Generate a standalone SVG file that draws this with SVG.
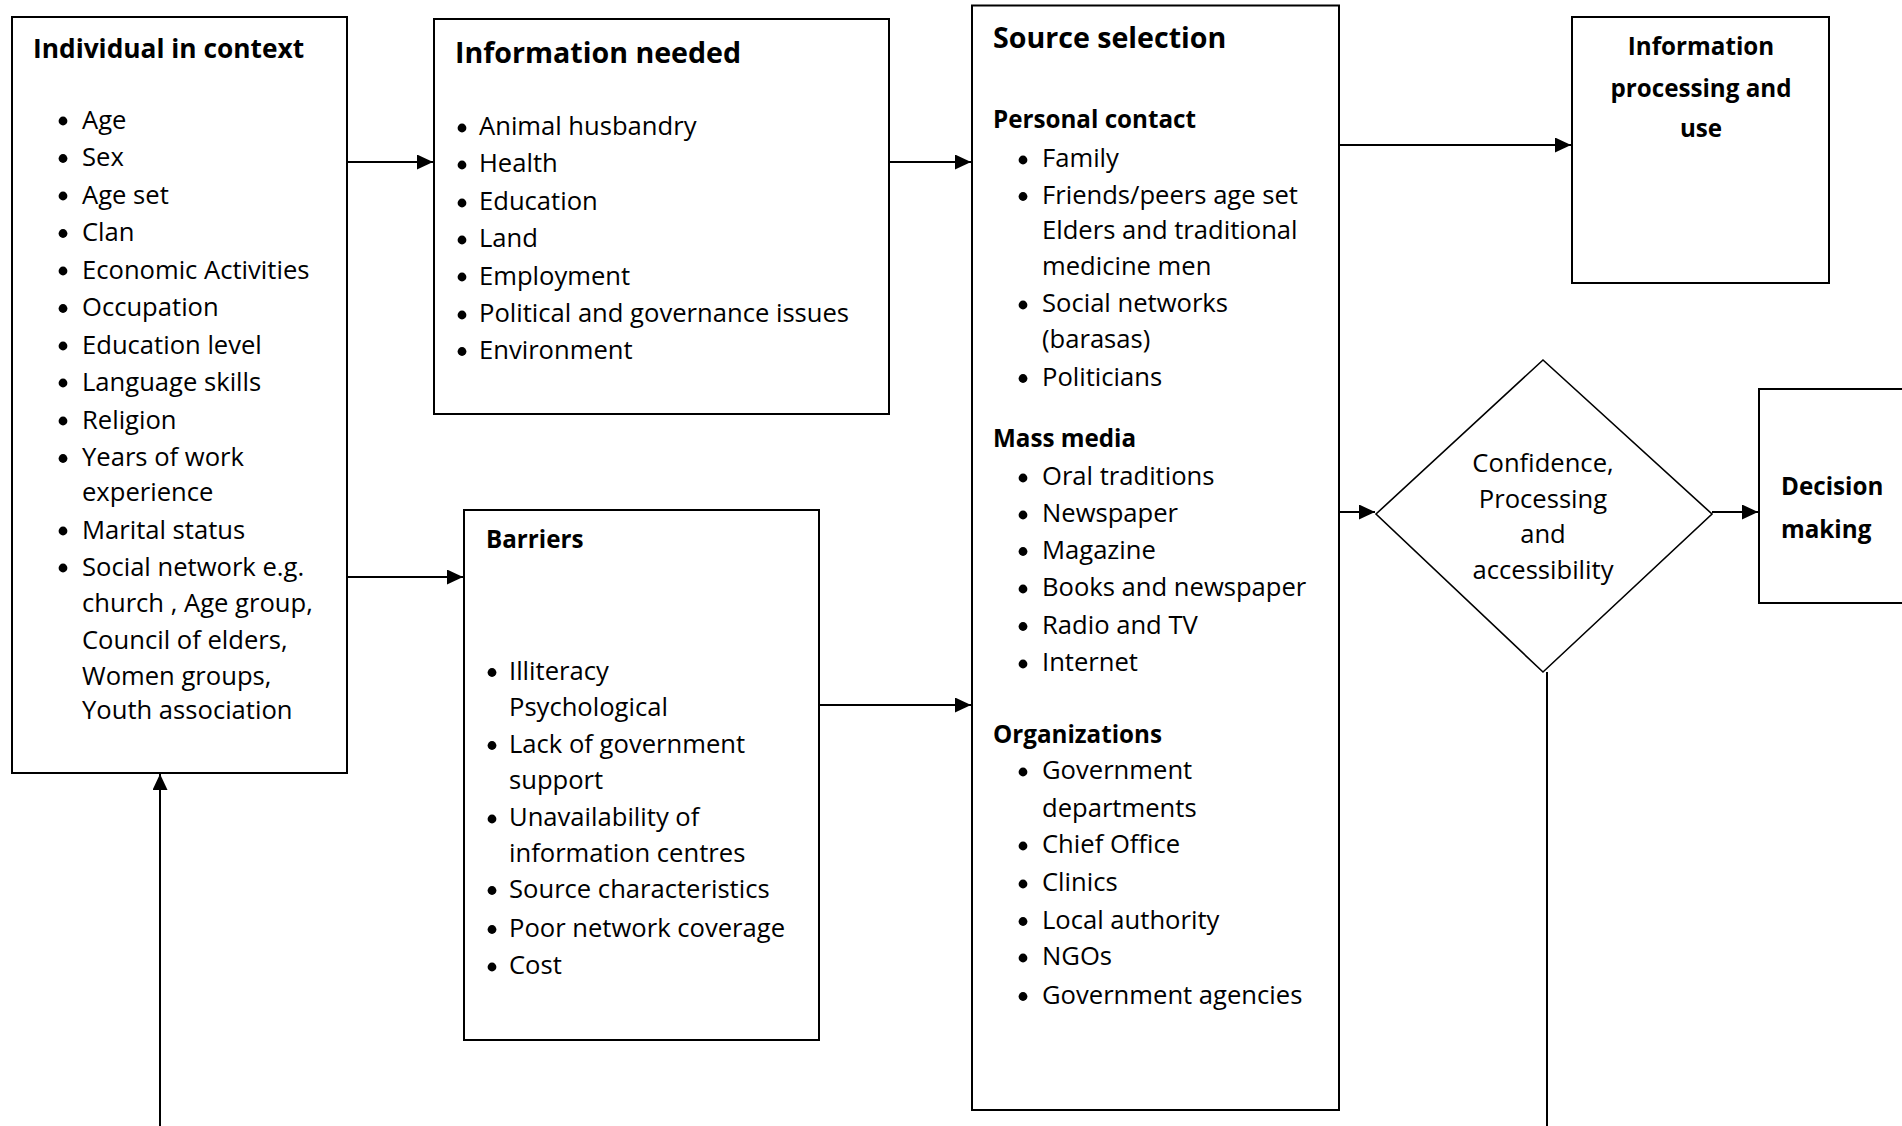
<svg xmlns="http://www.w3.org/2000/svg" width="1902" height="1126" viewBox="0 0 1902 1126">
<style>
text{font-family:"Open Sans","Noto Sans","DejaVu Sans",sans-serif;fill:#000}
.b{font-size:25.6px}
.h{font-size:26.3px;font-weight:bold}
.h2{font-size:28.6px;font-weight:bold}
.s{font-size:24.2px;font-weight:bold}
.box{fill:#fff;stroke:#000;stroke-width:2}
.dia{fill:#fff;stroke:#000;stroke-width:1.6}
.c{fill:none;stroke:#000;stroke-width:2}
.dot{fill:#000}
</style>
<defs>
<marker id="ah" markerUnits="userSpaceOnUse" markerWidth="17" markerHeight="16" refX="16" refY="7.5" orient="auto">
<path d="M0,0 L16,7.5 L0,15 z" fill="#000"/>
</marker>
</defs>
<rect width="1902" height="1126" fill="#fff"/>

<g id="connectors">
<path class="c" d="M347,162 H433" marker-end="url(#ah)"/>
<path class="c" d="M889,162 H971" marker-end="url(#ah)"/>
<path class="c" d="M347,577 H463" marker-end="url(#ah)"/>
<path class="c" d="M819,705 H971" marker-end="url(#ah)"/>
<path class="c" d="M1339,145 H1571" marker-end="url(#ah)"/>
<path class="c" d="M1339,512 H1375" marker-end="url(#ah)"/>
<path class="c" d="M1712,512 H1758" marker-end="url(#ah)"/>
<path class="c" d="M160,1126 V774" marker-end="url(#ah)"/>
<path class="c" d="M1547,672 V1126"/>
</g>

<g id="individual">
<rect class="box" x="12" y="17" width="335" height="756"/>
<text class="h" x="33" y="58">Individual in context</text>
<g class="dot">
<circle cx="63" cy="121" r="4.4"/><circle cx="63" cy="158.5" r="4.4"/><circle cx="63" cy="196" r="4.4"/><circle cx="63" cy="233.5" r="4.4"/><circle cx="63" cy="271" r="4.4"/><circle cx="63" cy="308.5" r="4.4"/><circle cx="63" cy="346" r="4.4"/><circle cx="63" cy="383" r="4.4"/><circle cx="63" cy="421" r="4.4"/><circle cx="63" cy="458.5" r="4.4"/><circle cx="63" cy="531" r="4.4"/><circle cx="63" cy="568" r="4.4"/>
</g>
<text class="b" x="82" y="128.5">Age</text>
<text class="b" x="82" y="166">Sex</text>
<text class="b" x="82" y="203.5">Age set</text>
<text class="b" x="82" y="241">Clan</text>
<text class="b" x="82" y="278.5">Economic Activities</text>
<text class="b" x="82" y="316">Occupation</text>
<text class="b" x="82" y="353.5">Education level</text>
<text class="b" x="82" y="390.5">Language skills</text>
<text class="b" x="82" y="428.5">Religion</text>
<text class="b" x="82" y="466">Years of work</text>
<text class="b" x="82" y="501">experience</text>
<text class="b" x="82" y="538.5">Marital status</text>
<text class="b" x="82" y="575.5">Social network e.g.</text>
<text class="b" x="82" y="612">church , Age group,</text>
<text class="b" x="82" y="648.5">Council of elders,</text>
<text class="b" x="82" y="685">Women groups,</text>
<text class="b" x="82" y="719">Youth association</text>
</g>

<g id="info-needed">
<rect class="box" x="434" y="19" width="455" height="395"/>
<text class="h2" x="455" y="63">Information needed</text>
<g class="dot">
<circle cx="462" cy="128" r="4.4"/><circle cx="462" cy="165" r="4.4"/><circle cx="462" cy="203" r="4.4"/><circle cx="462" cy="240" r="4.4"/><circle cx="462" cy="277" r="4.4"/><circle cx="462" cy="315" r="4.4"/><circle cx="462" cy="351.5" r="4.4"/>
</g>
<text class="b" x="479" y="135">Animal husbandry</text>
<text class="b" x="479" y="172">Health</text>
<text class="b" x="479" y="210">Education</text>
<text class="b" x="479" y="247">Land</text>
<text class="b" x="479" y="284.5">Employment</text>
<text class="b" x="479" y="322">Political and governance issues</text>
<text class="b" x="479" y="358.5">Environment</text>
</g>

<g id="barriers">
<rect class="box" x="464" y="510" width="355" height="530"/>
<text class="s" x="486" y="548">Barriers</text>
<g class="dot">
<circle cx="492" cy="672.5" r="4.4"/><circle cx="492" cy="745.5" r="4.4"/><circle cx="492" cy="819" r="4.4"/><circle cx="492" cy="890.5" r="4.4"/><circle cx="492" cy="929.5" r="4.4"/><circle cx="492" cy="967" r="4.4"/>
</g>
<text class="b" x="509" y="679.5">Illiteracy</text>
<text class="b" x="509" y="716">Psychological</text>
<text class="b" x="509" y="752.5">Lack of government</text>
<text class="b" x="509" y="788.5">support</text>
<text class="b" x="509" y="826">Unavailability of</text>
<text class="b" x="509" y="861.5">information centres</text>
<text class="b" x="509" y="897.5">Source characteristics</text>
<text class="b" x="509" y="936.5">Poor network coverage</text>
<text class="b" x="509" y="974">Cost</text>
</g>

<g id="source-selection">
<rect class="box" x="972" y="5.5" width="367" height="1104.5"/>
<text class="h2" x="993" y="48">Source selection</text>
<text class="s" x="993" y="128">Personal contact</text>
<text class="s" x="993" y="447">Mass media</text>
<text class="s" x="993" y="743">Organizations</text>
<g class="dot">
<circle cx="1023" cy="160" r="4.4"/><circle cx="1023" cy="196.5" r="4.4"/><circle cx="1023" cy="305" r="4.4"/><circle cx="1023" cy="378.5" r="4.4"/>
<circle cx="1023" cy="478" r="4.4"/><circle cx="1023" cy="515" r="4.4"/><circle cx="1023" cy="551.5" r="4.4"/><circle cx="1023" cy="589" r="4.4"/><circle cx="1023" cy="626.5" r="4.4"/><circle cx="1023" cy="664" r="4.4"/>
<circle cx="1023" cy="772" r="4.4"/><circle cx="1023" cy="846" r="4.4"/><circle cx="1023" cy="884" r="4.4"/><circle cx="1023" cy="921.5" r="4.4"/><circle cx="1023" cy="958" r="4.4"/><circle cx="1023" cy="996.5" r="4.4"/>
</g>
<text class="b" x="1042" y="167">Family</text>
<text class="b" x="1042" y="203.5">Friends/peers age set</text>
<text class="b" x="1042" y="238.5">Elders and traditional</text>
<text class="b" x="1042" y="274.5">medicine men</text>
<text class="b" x="1042" y="312">Social networks</text>
<text class="b" x="1042" y="348">(barasas)</text>
<text class="b" x="1042" y="385.5">Politicians</text>
<text class="b" x="1042" y="485">Oral traditions</text>
<text class="b" x="1042" y="522">Newspaper</text>
<text class="b" x="1042" y="558.5">Magazine</text>
<text class="b" x="1042" y="596">Books and newspaper</text>
<text class="b" x="1042" y="633.5">Radio and TV</text>
<text class="b" x="1042" y="671">Internet</text>
<text class="b" x="1042" y="779">Government</text>
<text class="b" x="1042" y="816.5">departments</text>
<text class="b" x="1042" y="853">Chief Office</text>
<text class="b" x="1042" y="891">Clinics</text>
<text class="b" x="1042" y="928.5">Local authority</text>
<text class="b" x="1042" y="965">NGOs</text>
<text class="b" x="1042" y="1003.5">Government agencies</text>
</g>

<g id="info-processing">
<rect class="box" x="1572" y="17" width="257" height="266"/>
<text class="s" x="1701" y="55" text-anchor="middle">Information</text>
<text class="s" x="1701" y="96.5" text-anchor="middle">processing and</text>
<text class="s" x="1701" y="136.5" text-anchor="middle">use</text>
</g>

<g id="confidence">
<polygon class="dia" points="1376,514 1543,360 1712,514 1543,672"/>
<text class="b" x="1543" y="471.5" text-anchor="middle">Confidence,</text>
<text class="b" x="1543" y="508" text-anchor="middle">Processing</text>
<text class="b" x="1543" y="543" text-anchor="middle">and</text>
<text class="b" x="1543" y="578.5" text-anchor="middle">accessibility</text>
</g>

<g id="decision">
<rect class="box" x="1759" y="389" width="170" height="214"/>
<text class="s" x="1781" y="495">Decision</text>
<text class="s" x="1781" y="538">making</text>
</g>
</svg>
